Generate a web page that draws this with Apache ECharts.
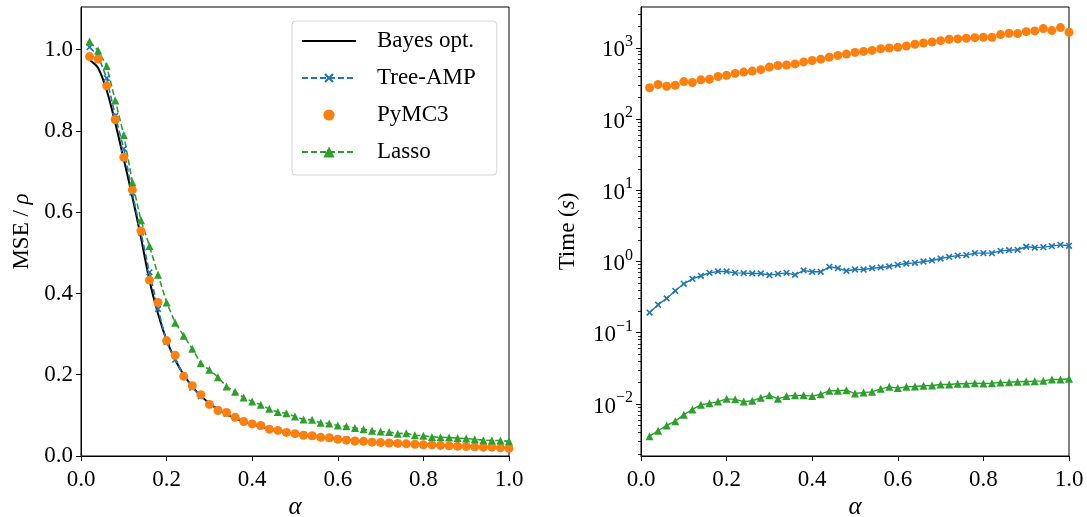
<!DOCTYPE html>
<html>
<head>
<meta charset="utf-8">
<title>MSE and time vs alpha</title>
<script src="https://cdn.jsdelivr.net/npm/echarts@6/dist/echarts.min.js"></script>
<style>
  html, body { margin: 0; padding: 0; background: #fff; }
  #chart { width: 1087px; height: 517px; }
</style>
</head>
<body>
<div id="chart"></div>
<script>
// measurement ratio alpha (x of both panels)
var alpha = [0.02, 0.04, 0.06, 0.08, 0.10, 0.12, 0.14, 0.16, 0.18, 0.20,
             0.22, 0.24, 0.26, 0.28, 0.30, 0.32, 0.34, 0.36, 0.38, 0.40,
             0.42, 0.44, 0.46, 0.48, 0.50, 0.52, 0.54, 0.56, 0.58, 0.60,
             0.62, 0.64, 0.66, 0.68, 0.70, 0.72, 0.74, 0.76, 0.78, 0.80,
             0.82, 0.84, 0.86, 0.88, 0.90, 0.92, 0.94, 0.96, 0.98, 1.00];

// left panel: MSE / rho
var mseBayes = [0.975, 0.955, 0.9, 0.82, 0.73, 0.638, 0.538, 0.432, 0.35, 0.285,
                0.237, 0.2, 0.171, 0.148, 0.13, 0.115, 0.103, 0.093, 0.085, 0.078,
                0.072, 0.067, 0.062, 0.058, 0.055, 0.052, 0.049, 0.046, 0.044, 0.042,
                0.040, 0.038, 0.036, 0.035, 0.033, 0.032, 0.031, 0.030, 0.029, 0.028,
                0.027, 0.026, 0.025, 0.024, 0.0235, 0.0228, 0.022, 0.0213, 0.0207, 0.020];
var mseTreeAmp = [1.006, 0.985, 0.93, 0.837, 0.756, 0.648, 0.55, 0.452, 0.362, 0.28,
                  0.237, 0.198, 0.168, 0.147, 0.128, 0.114, 0.104, 0.094, 0.086, 0.079,
                  0.073, 0.067, 0.063, 0.058, 0.055, 0.052, 0.049, 0.046, 0.044, 0.042,
                  0.040, 0.038, 0.036, 0.035, 0.033, 0.032, 0.031, 0.030, 0.029, 0.028,
                  0.027, 0.026, 0.025, 0.024, 0.0235, 0.0228, 0.022, 0.0213, 0.0207, 0.020];
var msePymc = [0.983, 0.977, 0.911, 0.828, 0.735, 0.655, 0.554, 0.433, 0.378, 0.284,
               0.248, 0.196, 0.173, 0.151, 0.127, 0.112, 0.107, 0.0955, 0.085, 0.079,
               0.075, 0.066, 0.063, 0.058, 0.055, 0.051, 0.0497, 0.046, 0.045, 0.041,
               0.039, 0.037, 0.036, 0.034, 0.033, 0.032, 0.031, 0.030, 0.029, 0.0275,
               0.0275, 0.026, 0.025, 0.024, 0.0234, 0.0226, 0.0217, 0.0217, 0.020, 0.019];
var mseLasso = [1.02, 0.998, 0.96, 0.875, 0.79, 0.674, 0.58, 0.517, 0.446, 0.378,
                0.328, 0.296, 0.264, 0.228, 0.212, 0.194, 0.171, 0.158, 0.144, 0.134,
                0.126, 0.116, 0.108, 0.105, 0.097, 0.090, 0.089, 0.082, 0.080, 0.075,
                0.073, 0.069, 0.066, 0.062, 0.060, 0.059, 0.055, 0.056, 0.051, 0.050,
                0.047, 0.046, 0.0455, 0.044, 0.043, 0.041, 0.039, 0.038, 0.038, 0.036];

// right panel: time in seconds
var timeTreeAmp = [0.192, 0.247, 0.303, 0.388, 0.486, 0.571, 0.630, 0.693, 0.724, 0.724,
                   0.693, 0.686, 0.679, 0.679, 0.643, 0.671, 0.693, 0.650, 0.748, 0.716,
                   0.716, 0.842, 0.805, 0.740, 0.772, 0.772, 0.805, 0.824, 0.851, 0.898,
                   0.937, 0.957, 1.0, 1.033, 1.10, 1.16, 1.21, 1.23, 1.31, 1.31,
                   1.31, 1.41, 1.44, 1.46, 1.61, 1.57, 1.59, 1.64, 1.71, 1.66];
var timePymc = [275, 305, 288, 298, 335, 325, 355, 362, 395, 410,
                437, 456, 471, 493, 538, 563, 574, 593, 633, 663,
                692, 738, 781, 815, 861, 889, 919, 969, 992, 1015,
                1059, 1120, 1168, 1206, 1259, 1318, 1331, 1361, 1388, 1406,
                1406, 1532, 1601, 1580, 1685, 1724, 1859, 1744, 1921, 1653];
var timeLasso = [0.00353, 0.00421, 0.00499, 0.00574, 0.00705, 0.00838, 0.00973, 0.0102, 0.0108, 0.0118,
                 0.0116, 0.0108, 0.0111, 0.0122, 0.0132, 0.0118, 0.0129, 0.0132, 0.0132, 0.0129,
                 0.0137, 0.0153, 0.0153, 0.0156, 0.0140, 0.0145, 0.0148, 0.0163, 0.0174, 0.0167,
                 0.0174, 0.0176, 0.0180, 0.0182, 0.0188, 0.0188, 0.0192, 0.0192, 0.0196, 0.0194,
                 0.0196, 0.0200, 0.0202, 0.0205, 0.0207, 0.0209, 0.0211, 0.0221, 0.0221, 0.0226];

// tick values
var logMajor = [0.01, 0.1, 1, 10, 100, 1000];
var logMinor = [];
[0.001, 0.01, 0.1, 1, 10, 100, 1000].forEach(function (d) {
    for (var k = 2; k <= 9; k++) logMinor.push(+(d * k).toPrecision(3));
});

var FONT = 'Liberation Serif';
var FS = 23;
var BLUE = '#1f77b4', ORANGE = '#ff7f0e', GREEN = '#2ca02c';
var XMARK = 'path://M4,0H6V4H10V6H6V10H4V6H0V4H4Z';

function pairs(ys) {
    return alpha.map(function (a, i) { return [a, ys[i]]; });
}

function xAxisFor(grid) {
    return {
        type: 'value', gridIndex: grid, min: 0, max: 1, interval: 0.2,
        name: 'α', nameLocation: 'middle', nameGap: 39, nameMoveOverlap: false,
        nameTextStyle: { fontFamily: FONT, fontSize: 25, fontStyle: 'italic', color: '#000' },
        axisLine: { lineStyle: { color: '#000', width: 1 } },
        axisTick: { show: true, inside: false, length: 5, lineStyle: { color: '#000' } },
        axisLabel: { fontFamily: FONT, fontSize: FS, color: '#000', margin: 12,
                     formatter: function (v) { return v.toFixed(1); } },
        splitLine: { show: false }
    };
}

function expLabel(v) {
    var e = Math.round(Math.log10(v));
    return '{b|10}{e|' + String(e).replace('-', '−') + '}';
}

var logLabelRich = {
    b: { fontFamily: FONT, fontSize: FS, color: '#000', lineHeight: 28, verticalAlign: 'bottom' },
    e: { fontFamily: FONT, fontSize: 16, color: '#000', lineHeight: 15, verticalAlign: 'top' }
};

var chart = echarts.init(document.getElementById('chart'));
chart.setOption({
    animation: false,
    backgroundColor: '#fff',
    grid: [
        { left: 81, top: 7, width: 428, height: 449, outerBoundsMode: 'none',
          show: true, borderColor: '#000', borderWidth: 1 },
        { left: 641, top: 7, width: 428, height: 449, outerBoundsMode: 'none',
          show: true, borderColor: '#000', borderWidth: 1 }
    ],
    legend: {
        data: [{ name: 'Bayes opt.', itemStyle: { opacity: 0 } }, 'Tree-AMP', 'PyMC3', 'Lasso'],
        orient: 'vertical',
        left: 292, top: 21,
        padding: [8, 21, 11, 9],
        itemWidth: 54, itemHeight: 14, itemGap: 13,
        borderColor: '#d4d4d4', borderWidth: 1, borderRadius: 4,
        backgroundColor: 'rgba(255,255,255,0.8)',
        selectedMode: false,
        textStyle: { fontFamily: FONT, fontSize: FS, color: '#000', lineHeight: 24, padding: [0, 0, 0, 16] }
    },
    xAxis: [xAxisFor(0), xAxisFor(1)],
    yAxis: [
        {
            type: 'value', gridIndex: 0, min: 0, max: 1.105, interval: 0.2,
            name: 'MSE / {i|ρ}', nameLocation: 'middle', nameGap: 48,
            nameTextStyle: { fontFamily: FONT, fontSize: FS, color: '#000',
                             rich: { i: { fontFamily: FONT, fontSize: FS, fontStyle: 'italic', color: '#000' } } },
            axisLine: { show: true, lineStyle: { color: '#000', width: 1 } },
            axisTick: { show: true, length: 5, lineStyle: { color: '#000' } },
            axisLabel: { fontFamily: FONT, fontSize: FS, color: '#000', margin: 8, showMaxLabel: false,
                         formatter: function (v) { return v.toFixed(1); } },
            splitLine: { show: false }
        },
        {
            type: 'log', logBase: 10, gridIndex: 1, position: 'left', min: 0.00186, max: 3735,
            name: 'Time ({i|s})', nameLocation: 'middle', nameGap: 62,
            nameTextStyle: { fontFamily: FONT, fontSize: FS, color: '#000',
                             rich: { i: { fontFamily: FONT, fontSize: FS, fontStyle: 'italic', color: '#000' } } },
            axisLine: { show: true, lineStyle: { color: '#000', width: 1 } },
            axisTick: { show: true, length: 5, lineStyle: { color: '#000' }, customValues: logMajor },
            axisLabel: { color: '#000', margin: 8, customValues: logMajor, formatter: expLabel, rich: logLabelRich },
            splitLine: { show: false }
        },
        {
            // minor log ticks only
            type: 'log', logBase: 10, gridIndex: 1, position: 'left', offset: 0, min: 0.00186, max: 3735,
            axisLine: { show: true, lineStyle: { color: '#000', width: 1 } },
            axisTick: { show: true, length: 3, lineStyle: { color: '#000', width: 0.8 }, customValues: logMinor },
            axisLabel: { show: false },
            splitLine: { show: false }
        }
    ],
    series: [
        {
            name: 'Bayes opt.', type: 'line', xAxisIndex: 0, yAxisIndex: 0,
            data: pairs(mseBayes), showSymbol: false, symbol: 'circle', smooth: 0.3,
            lineStyle: { color: '#000', width: 2 }, itemStyle: { color: '#000' }
        },
        {
            name: 'Tree-AMP', type: 'line', xAxisIndex: 0, yAxisIndex: 0,
            data: pairs(mseTreeAmp), symbol: XMARK, symbolSize: 8, symbolRotate: 45, showAllSymbol: true,
            lineStyle: { color: BLUE, width: 1.6, type: [6, 3] }, itemStyle: { color: BLUE }
        },
        {
            name: 'PyMC3', type: 'line', xAxisIndex: 0, yAxisIndex: 0,
            data: pairs(msePymc), symbol: 'circle', symbolSize: 9, showAllSymbol: true,
            lineStyle: { width: 0, opacity: 0 }, itemStyle: { color: ORANGE }
        },
        {
            name: 'Lasso', type: 'line', xAxisIndex: 0, yAxisIndex: 0,
            data: pairs(mseLasso), symbol: 'triangle', symbolSize: 8, showAllSymbol: true,
            lineStyle: { color: GREEN, width: 1.6, type: [6, 3] }, itemStyle: { color: GREEN }
        },
        {
            name: 'Tree-AMP time', type: 'line', xAxisIndex: 1, yAxisIndex: 1,
            data: pairs(timeTreeAmp), symbol: XMARK, symbolSize: 8, symbolRotate: 45, showAllSymbol: true,
            lineStyle: { color: BLUE, width: 1.4 }, itemStyle: { color: BLUE }
        },
        {
            name: 'PyMC3 time', type: 'line', xAxisIndex: 1, yAxisIndex: 1,
            data: pairs(timePymc), symbol: 'circle', symbolSize: 9, showAllSymbol: true,
            lineStyle: { width: 0, opacity: 0 }, itemStyle: { color: ORANGE }
        },
        {
            name: 'Lasso time', type: 'line', xAxisIndex: 1, yAxisIndex: 1,
            data: pairs(timeLasso), symbol: 'triangle', symbolSize: 8, showAllSymbol: true,
            lineStyle: { color: GREEN, width: 1.4 }, itemStyle: { color: GREEN }
        }
    ]
});
</script>
</body>
</html>
